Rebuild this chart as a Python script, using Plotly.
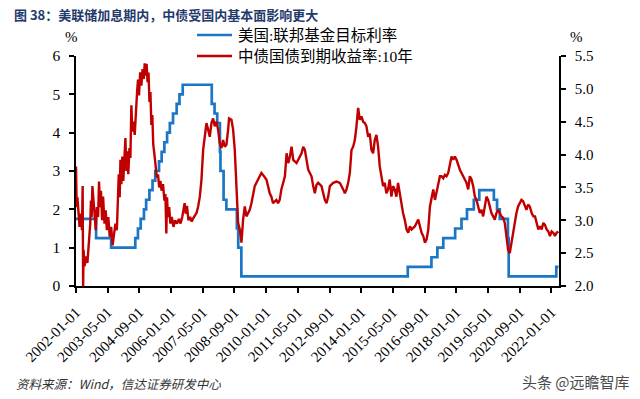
import pandas as pd
import plotly.graph_objects as go

# ---------------- data ----------------
# US Fed funds target rate (upper bound), change dates and levels
fed_dates = ["2002-01-01", "2002-11-06", "2003-06-25", "2004-06-30", "2004-08-10", "2004-09-21",
             "2004-11-10", "2004-12-14", "2005-02-02", "2005-03-22", "2005-05-03", "2005-06-30",
             "2005-08-09", "2005-09-20", "2005-11-01", "2005-12-13", "2006-01-31", "2006-03-28",
             "2006-05-10", "2006-06-29", "2007-09-18", "2007-10-31", "2007-12-11", "2008-01-22",
             "2008-01-30", "2008-03-18", "2008-04-30", "2008-10-08", "2008-10-29", "2008-12-16",
             "2015-12-17", "2016-12-15", "2017-03-16", "2017-06-15", "2017-12-14", "2018-03-22",
             "2018-06-14", "2018-09-27", "2018-12-20", "2019-08-01", "2019-09-19", "2019-10-31",
             "2020-03-04", "2020-03-16", "2022-03-17", "2022-04-20"]
fed_rate = [1.75, 1.25, 1.00, 1.25, 1.50, 1.75,
            2.00, 2.25, 2.50, 2.75, 3.00, 3.25,
            3.50, 3.75, 4.00, 4.25, 4.50, 4.75,
            5.00, 5.25, 4.75, 4.50, 4.25, 3.50,
            3.00, 2.25, 2.00, 1.50, 1.00, 0.25,
            0.50, 0.75, 1.00, 1.25, 1.50, 1.75,
            2.00, 2.25, 2.50, 2.25, 2.00, 1.75,
            1.25, 0.25, 0.50, 0.50]

# China 10Y government bond yield (time in decimal years, value in %)
cgb_t = [2002.00, 2002.03, 2002.06, 2002.10, 2002.15, 2002.20, 2002.25, 2002.28, 2002.30, 2002.32,
         2002.36, 2002.42, 2002.48, 2002.55, 2002.60, 2002.63, 2002.66, 2002.69, 2002.73, 2002.78,
         2002.83, 2002.88, 2002.93, 2002.97, 2003.01, 2003.05, 2003.10, 2003.14, 2003.20, 2003.25,
         2003.30, 2003.36, 2003.42, 2003.48, 2003.54, 2003.60, 2003.66, 2003.72, 2003.76, 2003.80,
         2003.84, 2003.87, 2003.91, 2003.95, 2003.99, 2004.04, 2004.08, 2004.12, 2004.16, 2004.20,
         2004.25, 2004.29, 2004.33, 2004.37, 2004.42, 2004.47, 2004.52, 2004.57, 2004.61, 2004.65,
         2004.70, 2004.75, 2004.80, 2004.85, 2004.89, 2004.93, 2004.97, 2005.01, 2005.05, 2005.09,
         2005.13, 2005.17, 2005.21, 2005.25, 2005.30, 2005.35, 2005.40, 2005.45, 2005.50, 2005.55,
         2005.60, 2005.66, 2005.72, 2005.76, 2005.80, 2005.83, 2005.87, 2005.92, 2005.97, 2006.03,
         2006.10, 2006.17, 2006.25, 2006.33, 2006.40, 2006.47, 2006.52, 2006.57, 2006.62, 2006.67,
         2006.73, 2006.80, 2006.87, 2006.93, 2007.07, 2007.14, 2007.21, 2007.28, 2007.35, 2007.42,
         2007.49, 2007.56, 2007.63, 2007.70, 2007.77, 2007.84, 2007.91, 2007.98, 2008.05, 2008.12,
         2008.19, 2008.26, 2008.33, 2008.40, 2008.44, 2008.54, 2008.61, 2008.68, 2008.72, 2008.78,
         2008.82, 2008.89, 2008.96, 2009.03, 2009.10, 2009.17, 2009.31, 2009.38, 2009.52, 2009.59,
         2009.73, 2009.80, 2009.87, 2010.01, 2010.08, 2010.15, 2010.22, 2010.29, 2010.43, 2010.50,
         2010.57, 2010.64, 2010.79, 2010.86, 2010.93, 2011.00, 2011.07, 2011.14, 2011.28, 2011.35,
         2011.49, 2011.56, 2011.63, 2011.70, 2011.77, 2011.84, 2011.91, 2011.98, 2012.05, 2012.12,
         2012.19, 2012.33, 2012.40, 2012.47, 2012.54, 2012.61, 2012.68, 2012.82, 2012.96, 2013.10,
         2013.24, 2013.31, 2013.38, 2013.45, 2013.52, 2013.59, 2013.66, 2013.73, 2013.80, 2013.87,
         2013.94, 2014.01, 2014.08, 2014.15, 2014.22, 2014.29, 2014.36, 2014.43, 2014.50, 2014.57,
         2014.64, 2014.71, 2014.78, 2014.85, 2014.92, 2014.99, 2015.06, 2015.13, 2015.20, 2015.27,
         2015.34, 2015.41, 2015.48, 2015.55, 2015.62, 2015.69, 2015.76, 2015.83, 2015.91, 2015.98,
         2016.05, 2016.12, 2016.26, 2016.40, 2016.47, 2016.54, 2016.61, 2016.68, 2016.75, 2016.82,
         2016.89, 2016.96, 2017.03, 2017.10, 2017.24, 2017.31, 2017.38, 2017.45, 2017.52, 2017.59,
         2017.66, 2017.73, 2017.80, 2017.87, 2017.94, 2018.01, 2018.08, 2018.15, 2018.22, 2018.29,
         2018.36, 2018.43, 2018.50, 2018.57, 2018.64, 2018.71, 2018.78, 2018.85, 2018.92, 2018.99,
         2019.06, 2019.13, 2019.20, 2019.27, 2019.34, 2019.41, 2019.48, 2019.55, 2019.62, 2019.69,
         2019.76, 2019.83, 2019.90, 2019.97, 2020.04, 2020.11, 2020.18, 2020.25, 2020.32, 2020.39,
         2020.46, 2020.53, 2020.60, 2020.67, 2020.74, 2020.81, 2020.88, 2020.95, 2021.02, 2021.09,
         2021.17, 2021.24, 2021.31, 2021.38, 2021.45, 2021.52, 2021.59, 2021.66, 2021.73, 2021.80,
         2021.87, 2021.94, 2022.01, 2022.08, 2022.15, 2022.22, 2022.29]
cgb_yield = [3.82, 3.20, 3.35, 3.05, 2.90, 3.10, 2.85, 3.52, 2.00, 2.55,
             2.30, 2.45, 2.35, 2.70, 2.95, 3.30, 3.05, 3.52, 3.25, 3.10,
             2.85, 3.20, 3.05, 3.59, 3.20, 3.45, 3.00, 3.36, 2.95, 3.15,
             2.85, 3.05, 2.75, 2.90, 2.62, 2.75, 2.95, 2.85, 3.20, 3.70,
             3.35, 3.92, 3.55, 3.97, 3.60, 3.90, 4.25, 3.75, 4.05, 3.70,
             4.10, 3.95, 4.75, 4.35, 4.50, 4.30, 4.70, 4.95, 5.14, 4.90,
             5.25, 5.05, 5.30, 5.15, 5.39, 5.20, 5.38, 5.10, 5.25, 4.80,
             4.95, 4.45, 4.60, 4.15, 4.00, 3.85, 3.65, 3.70, 3.50, 3.60,
             3.45, 3.55, 3.30, 3.40, 2.80, 3.35, 3.05, 3.20, 2.95, 3.05,
             2.90, 3.00, 2.95, 3.02, 2.95, 3.05, 3.20, 3.26, 3.10, 3.22,
             3.00, 3.05, 2.98, 3.03, 3.11, 3.21, 3.36, 3.62, 4.07, 4.27,
             4.48, 4.38, 4.27, 4.48, 4.55, 4.43, 4.50, 4.38, 4.17, 4.10,
             4.22, 4.12, 4.15, 4.38, 4.55, 4.53, 4.38, 4.07, 3.67, 3.16,
             2.96, 2.86, 2.66, 3.01, 3.21, 3.06, 3.16, 3.26, 3.52, 3.57,
             3.67, 3.72, 3.69, 3.62, 3.52, 3.41, 3.36, 3.26, 3.31, 3.26,
             3.31, 3.47, 3.67, 4.02, 3.87, 3.97, 4.12, 3.92, 3.87, 3.92,
             4.02, 4.12, 4.07, 3.92, 3.77, 3.72, 3.67, 3.52, 3.41, 3.54,
             3.57, 3.52, 3.41, 3.31, 3.26, 3.36, 3.52, 3.57, 3.59, 3.57,
             3.47, 3.41, 3.47, 3.57, 3.72, 4.07, 4.12, 4.22, 4.43, 4.71,
             4.53, 4.58, 4.50, 4.48, 4.43, 4.27, 4.32, 4.07, 4.02, 4.22,
             4.30, 4.12, 3.82, 3.67, 3.52, 3.57, 3.41, 3.47, 3.62, 3.36,
             3.52, 3.47, 3.36, 3.57, 3.41, 3.21, 3.11, 3.01, 2.86, 2.81,
             2.91, 2.86, 2.91, 3.01, 2.91, 2.81, 2.76, 2.66, 2.71, 2.86,
             3.21, 3.36, 3.47, 3.31, 3.52, 3.67, 3.67, 3.64, 3.69, 3.67,
             3.72, 3.84, 3.97, 3.92, 3.97, 3.92, 3.84, 3.77, 3.72, 3.67,
             3.62, 3.57, 3.47, 3.67, 3.62, 3.52, 3.36, 3.31, 3.21, 3.11,
             3.16, 3.06, 3.21, 3.36, 3.31, 3.21, 3.11, 3.06, 3.01, 3.11,
             3.16, 3.11, 3.06, 3.04, 2.96, 2.76, 2.55, 2.50, 2.66, 2.86,
             3.01, 3.11, 3.21, 3.26, 3.31, 3.29, 3.21, 3.16, 3.24, 3.21,
             3.11, 3.06, 3.06, 2.96, 2.86, 2.91, 2.86, 2.96, 2.93, 2.86,
             2.83, 2.76, 2.83, 2.81, 2.76, 2.81, 2.83]

tick_vals = ["2002-01-01", "2003-05-01", "2004-09-01", "2006-01-01", "2007-05-01", "2008-09-01",
             "2010-01-01", "2011-05-01", "2012-09-01", "2014-01-01", "2015-05-01", "2016-09-01",
             "2018-01-01", "2019-05-01", "2020-09-01", "2022-01-01"]

name_fed = "美国:联邦基金目标利率"
name_cgb = "中债国债到期收益率:10年"
title_text = "<b>图 38：美联储加息期内，中债受国内基本面影响更大</b>"
source_text = "<i>资料来源：Wind，信达证券研发中心</i>"

BLUE = "#1B76C6"
RED = "#C00000"


def dec_to_date(t):
    y = int(t)
    start = pd.Timestamp(year=y, month=1, day=1)
    end = pd.Timestamp(year=y + 1, month=1, day=1)
    return start + (end - start) * (t - y)


cgb_dates = [dec_to_date(t) for t in cgb_t]

# ---------------- figure ----------------
W, H = 640, 399
L, R, T, B = 76, 81, 56, 113
PW, PH = W - L - R, H - T - B


def px(x):
    return (x - L) / PW


def py(y):
    return (H - B - y) / PH


SERIF = "Liberation Serif, Times New Roman, Noto Sans CJK SC, serif"
CJK = "Noto Sans CJK SC, sans-serif"

fig = go.Figure()
fig.add_trace(go.Scatter(x=fed_dates, y=fed_rate, name=name_fed, mode="lines",
                         line=dict(color=BLUE, width=2.7, shape="hv"), yaxis="y"))
fig.add_trace(go.Scatter(x=cgb_dates, y=cgb_yield, name=name_cgb, mode="lines",
                         line=dict(color=RED, width=2.4), yaxis="y2"))

axis_common = dict(showline=True, linecolor="black", linewidth=1.5, ticks="outside",
                   ticklen=5, tickwidth=1.5, tickcolor="black", showgrid=False, zeroline=False)

fig.update_layout(
    width=W, height=H,
    margin=dict(l=L, r=R, t=T, b=B, autoexpand=False),
    paper_bgcolor="white", plot_bgcolor="white",
    showlegend=False,
    xaxis=dict(type="date", range=["2002-01-01", "2022-04-28"],
               tickvals=tick_vals, ticktext=tick_vals, tickangle=-45, ticklabelstandoff=5,
               tickfont=dict(family=SERIF, size=15, color="black"), **axis_common),
    yaxis=dict(range=[0, 6], dtick=1, tick0=0, ticklabelstandoff=6,
               tickfont=dict(family=SERIF, size=15.5, color="black"), **axis_common),
    yaxis2=dict(range=[2.0, 5.5], dtick=0.5, tick0=2.0, tickformat=".1f", overlaying="y",
                side="right", ticklabelstandoff=6,
                tickfont=dict(family=SERIF, size=15, color="black"), **axis_common),
    title=dict(text=title_text, x=14 / W, xanchor="left", y=1 - 15 / H, yanchor="middle",
               xref="container", yref="container",
               font=dict(family=CJK, size=13, color="#1F3A6B")),
)

# legend (drawn manually to match spacing)
for name, color, ly in [(name_fed, BLUE, 35), (name_cgb, RED, 56)]:
    fig.add_shape(type="line", xref="paper", yref="paper", x0=px(197), x1=px(232),
                  y0=py(ly), y1=py(ly), line=dict(color=color, width=2.7))
    fig.add_annotation(text=name, x=px(236), y=py(ly), xref="paper", yref="paper",
                       xanchor="left", yanchor="middle", showarrow=False,
                       font=dict(family=SERIF, size=15.5, color="black"))

fig.add_annotation(text="%", x=px(71), y=py(37), xref="paper", yref="paper",
                   xanchor="center", yanchor="middle", showarrow=False,
                   font=dict(family=SERIF, size=15, color="black"))
fig.add_annotation(text="%", x=px(576), y=py(37), xref="paper", yref="paper",
                   xanchor="center", yanchor="middle", showarrow=False,
                   font=dict(family=SERIF, size=15, color="black"))
fig.add_annotation(text=source_text, x=px(14), y=py(383), xref="paper", yref="paper",
                   xanchor="left", yanchor="middle", showarrow=False,
                   font=dict(family=CJK, size=12.5, color="#333333"))
fig.add_annotation(text="头条 @远瞻智库", x=px(632), y=py(381), xref="paper", yref="paper",
                   xanchor="right", yanchor="middle", showarrow=False,
                   font=dict(family=CJK, size=15, color="#4a4a4a"))

fig.write_html("out.html", config={"displayModeBar": False},
               post_script="document.body.style.margin='0px';")
